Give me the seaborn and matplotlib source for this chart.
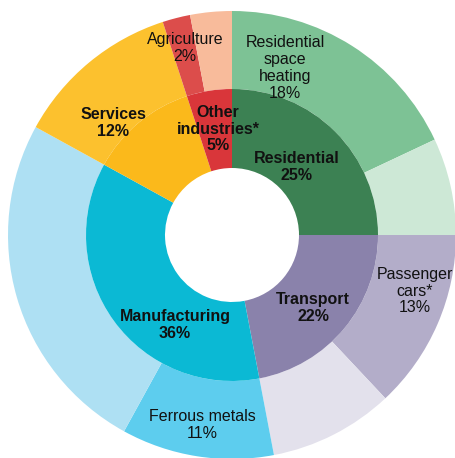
import matplotlib.pyplot as plt
import seaborn as sns

# inner ring: sectors
sectors = ["Residential", "Transport", "Manufacturing", "Services", "Other\nindustries*"]
sector_share = [25, 22, 36, 12, 5]
sector_colors = ["#3c8153", "#8a82ab", "#0bb9d4", "#fbb91b", "#d9363a"]

# outer ring: sub-sectors (unlabelled pieces are the remainder of the sector)
subsectors = ["Residential\nspace\nheating", "", "Passenger\ncars*", "", "Ferrous metals", "",
              "Services", "Agriculture", ""]
subsector_share = [18, 7, 13, 9, 11, 25, 12, 2, 3]
subsector_colors = ["#7dc295", "#cde8d6", "#b3adc9", "#e3e1ec", "#5dcdee", "#aee0f3",
                    "#fcc12e", "#dc4d4b", "#f8bb9b"]

sns.set_style("white")
plt.rcParams['font.family'] = ['Liberation Sans', 'DejaVu Sans']

fig = plt.figure(figsize=(4.56, 4.58), dpi=100)
ax = fig.add_axes([0, 0, 1, 1])

# work in pixel units, centre of the donut at (232, 235) from top-left
cx, cy = 232, 235
R_out, R_mid, R_hole = 224, 146, 67

ax.pie(subsector_share, colors=subsector_colors, radius=R_out, startangle=90,
       counterclock=False, center=(0, 0), frame=False,
       wedgeprops=dict(width=R_out - R_mid, linewidth=0))
ax.pie(sector_share, colors=sector_colors, radius=R_mid, startangle=90,
       counterclock=False, center=(0, 0), frame=False,
       wedgeprops=dict(width=R_mid - R_hole, linewidth=0))

ax.set_xlim(-cx, 456 - cx)
ax.set_ylim(-(458 - cy), cy)
ax.set_aspect('equal')
ax.axis('off')


def put(label, px, py, bold=False):
    ax.text(px - cx, cy - py, label, ha='center', va='center', fontsize=11.5,
            fontweight='bold' if bold else 'normal', color='#111111',
            linespacing=1.15, clip_on=False)


# sector labels (bold)
sector_pos = [(297, 167), (313, 308), (175, 325), (113, 123), (218, 129)]
for name, share, (px, py) in zip(sectors, sector_share, sector_pos):
    put(f"{name}\n{share}%", px, py, bold=True)

# sub-sector labels
sub_pos = {0: (285, 68), 2: (415, 291), 4: (202, 425), 7: (185, 48)}
for i, (px, py) in sub_pos.items():
    put(f"{subsectors[i]}\n{subsector_share[i]}%", px, py)

fig.savefig("out.png", dpi=100)
